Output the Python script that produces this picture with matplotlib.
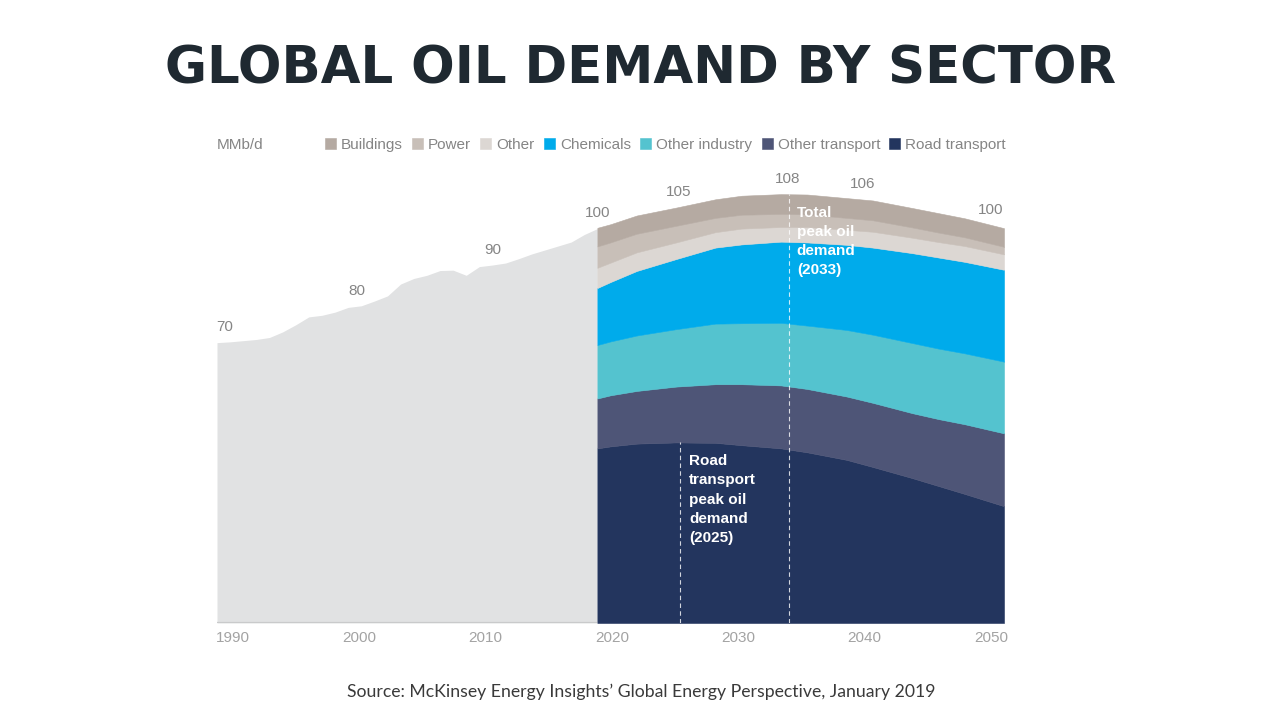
"""
Global oil demand by sector: historical total (grey) followed by a
stacked forecast by sector, 1990-2050.
"""

import matplotlib
matplotlib.use("Agg")
import matplotlib.pyplot as plt
import numpy as np

# --- data (MMb/d) ---------------------------------------------------------
HIST_YEARS = [1990, 1991, 1992, 1993, 1994, 1995, 1996, 1997, 1998, 1999,
              2000, 2001, 2002, 2003, 2004, 2005, 2006, 2007, 2008, 2009,
              2010, 2011, 2012, 2013, 2014, 2015, 2016, 2017, 2018, 2019]
HIST_TOTAL = [70.8, 71.0, 71.3, 71.6, 72.1, 73.5, 75.3, 77.3, 77.7, 78.5,
              79.7, 80.1, 81.3, 82.6, 85.6, 87.0, 87.8, 89.0, 89.1, 87.8,
              90.0, 90.4, 90.9, 92.0, 93.2, 94.2, 95.2, 96.2, 98.1, 99.6]

FC_YEARS = [2019, 2020, 2022, 2025, 2028, 2030, 2033, 2035, 2038, 2040,
            2043, 2045, 2047, 2050]
ROAD_TRANSPORT = [44.1, 44.6, 45.3, 45.6, 45.5, 44.9, 44.1, 43.1, 41.2, 39.4,
                  36.6, 34.6, 32.6, 29.5]
OTHER_TRANSPORT = [12.6, 12.9, 13.3, 14.1, 14.8, 15.4, 15.9, 16.0, 16.0, 16.2,
                   16.4, 16.9, 17.6, 18.4]
OTHER_INDUSTRY = [13.5, 13.6, 14.0, 14.5, 15.3, 15.4, 15.8, 16.0, 16.8, 17.2,
                  17.7, 17.8, 17.9, 18.1]
CHEMICALS = [14.4, 15.0, 16.3, 17.7, 19.2, 19.9, 20.5, 21.0, 21.5, 22.0,
             22.7, 23.0, 23.1, 23.2]
OTHER = [5.1, 4.9, 4.7, 4.2, 3.9, 4.0, 3.7, 3.9, 3.8, 4.0, 3.9, 3.9, 4.0, 3.9]
POWER = [5.4, 5.1, 4.7, 4.2, 3.6, 3.5, 3.3, 3.2, 3.0, 2.9, 2.6, 2.4, 2.2, 1.9]
BUILDINGS = [4.7, 4.6, 4.6, 4.6, 4.7, 4.8, 5.0, 5.0, 5.0, 5.0, 4.9, 4.9, 4.8, 4.7]

SECTORS = ["Road transport", "Other transport", "Other industry",
           "Chemicals", "Other", "Power", "Buildings"]
SECTOR_COLORS = ["#23355e", "#4e5577", "#54c3cf", "#00abeb",
                 "#dcd7d3", "#c8bfb8", "#b5aaa2"]

# value call-outs along the top edge
CALLOUT_YEARS = [1990.6, 2000.7, 2011.0, 2019.0, 2025.2, 2033.5, 2039.2, 2049.0]
CALLOUT_TEXT = ["70", "80", "90", "100", "105", "108", "106", "100"]

ROAD_PEAK_YEAR = 2025.3
TOTAL_PEAK_YEAR = 2033.6

TICK_LABELS = ["1990", "2000", "2010", "2020", "2030", "2040", "2050"]

HIST_COLOR = "#e1e2e3"
GREY_TEXT = "#858585"
LABEL_FONT = ["Liberation Sans", "DejaVu Sans"]


def main():
    fig = plt.figure(figsize=(12.75, 7.15), dpi=100)
    fig.patch.set_facecolor("white")
    W, H = 1275, 715
    ax = fig.add_axes([217 / W, (H - 623) / H, 787 / W, (623 - 175) / H])

    # historical total
    ax.fill_between(HIST_YEARS, 0, HIST_TOTAL, color=HIST_COLOR, lw=0, zorder=1)
    ax.plot([HIST_YEARS[0], HIST_YEARS[-1]], [0, 0], color="#c9cacb", lw=1.6,
            zorder=1.5, solid_capstyle="butt")

    # forecast by sector
    layers = [ROAD_TRANSPORT, OTHER_TRANSPORT, OTHER_INDUSTRY, CHEMICALS,
              OTHER, POWER, BUILDINGS]
    polys = ax.stackplot(FC_YEARS, *layers, colors=SECTOR_COLORS,
                         labels=SECTORS, linewidth=0.4, zorder=2)
    for p, c in zip(polys, SECTOR_COLORS):
        p.set_edgecolor(c)

    fc_total = np.sum(np.array(layers), axis=0)
    road = np.array(ROAD_TRANSPORT)

    # peak markers
    ax.plot([ROAD_PEAK_YEAR] * 2, [0, np.interp(ROAD_PEAK_YEAR, FC_YEARS, road)],
            color="white", lw=0.8, ls=(0, (4, 3)), alpha=0.8, zorder=3)
    ax.plot([TOTAL_PEAK_YEAR] * 2, [0, np.interp(TOTAL_PEAK_YEAR, FC_YEARS, fc_total)],
            color="white", lw=0.8, ls=(0, (4, 3)), alpha=0.8, zorder=3)

    ax.text(2026.0, 42.6, "Road\ntransport\npeak oil\ndemand\n(2025)",
            color="white", fontsize=11, weight="bold", family=LABEL_FONT,
            va="top", ha="left", linespacing=1.47, zorder=4)
    ax.text(2034.2, 105.4, "Total\npeak oil\ndemand\n(2033)",
            color="white", fontsize=11, weight="bold", family=LABEL_FONT,
            va="top", ha="left", linespacing=1.47, zorder=4)

    # value call-outs
    all_years = HIST_YEARS + FC_YEARS[1:]
    all_total = HIST_TOTAL + list(fc_total[1:])
    for yr, txt in zip(CALLOUT_YEARS, CALLOUT_TEXT):
        yv = np.interp(yr, all_years, all_total)
        ax.annotate(txt, xy=(yr, yv), xytext=(0, 6), textcoords="offset points",
                    ha="center", va="bottom", fontsize=11, color=GREY_TEXT,
                    family=LABEL_FONT)

    # axes
    ax.set_xlim(1990, 2050)
    ax.set_ylim(0, (623 - 175) / 3.96)
    for s in ax.spines.values():
        s.set_visible(False)
    ax.set_yticks([])
    tick_pos = np.linspace(1990 + 16 / 13.117, 2050 - 13 / 13.117, len(TICK_LABELS))
    ax.set_xticks(tick_pos)
    ax.set_xticklabels(TICK_LABELS, fontsize=11, color="#a3a3a3", family=LABEL_FONT)
    ax.tick_params(axis="x", length=0, pad=6)

    # legend row
    fig.text(217 / W, 1 - 145 / H, "MMb/d", fontsize=11, color=GREY_TEXT,
             family=LABEL_FONT, va="center", ha="left")
    fig.legend(polys[::-1], SECTORS[::-1], loc="center right",
               bbox_to_anchor=(1006 / W, 1 - 145 / H), ncol=7, frameon=False,
               handlelength=0.72, handleheight=0.72, handletextpad=0.32,
               columnspacing=0.62, borderaxespad=0, borderpad=0,
               prop={"family": LABEL_FONT, "size": 11}, labelcolor=GREY_TEXT)

    # title & source
    fig.text(641 / W, 1 - 70 / H, "GLOBAL OIL DEMAND BY SECTOR", ha="center",
             va="center", fontsize=37, weight="bold", color="#1f2931",
             family=["DejaVu Sans"])
    fig.text(641 / W, 1 - 692 / H,
             "Source: McKinsey Energy Insights\u2019 Global Energy Perspective, January 2019",
             ha="center", va="center", fontsize=12.7, color="#3a3a3a",
             family=["Lato", "DejaVu Sans"])

    fig.savefig("out.png", dpi=100, facecolor="white")
    plt.close(fig)


if __name__ == "__main__":
    main()
